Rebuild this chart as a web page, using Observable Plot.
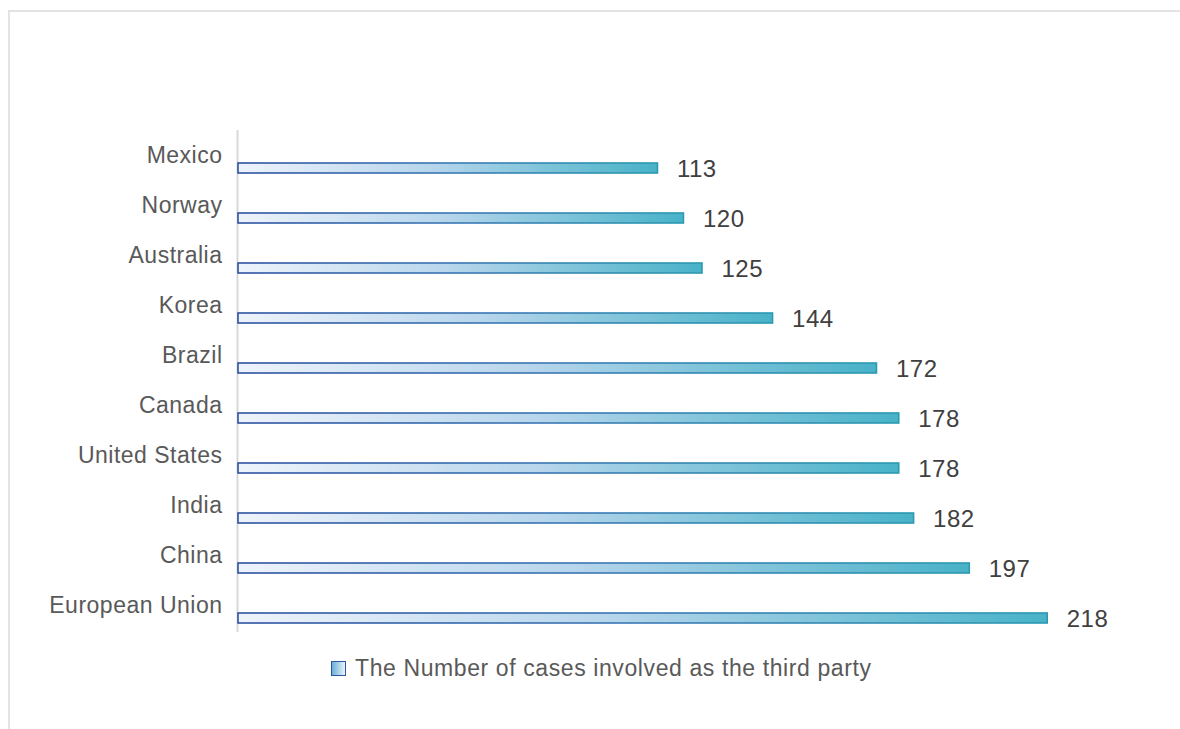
<!DOCTYPE html>
<html>
<head>
<meta charset="utf-8">
<script src="https://cdn.jsdelivr.net/npm/d3@7"></script>
<script src="https://cdn.jsdelivr.net/npm/@observablehq/plot@0.6"></script>
<style>
  html, body { margin: 0; padding: 0; background: #fff; }
  #wrap { position: relative; width: 1180px; height: 729px; overflow: hidden; font-family: "Liberation Sans", Arial, Helvetica, sans-serif; }
  #frame { position: absolute; left: 8px; top: 10px; width: 1200px; height: 760px; border-top: 2px solid #e3e3e3; border-left: 2px solid #e3e3e3; box-sizing: border-box; }
  #chart { position: absolute; left: 0; top: 0; }
  #chart svg text.cat { letter-spacing: 0.5px; }
  #chart svg text.val { letter-spacing: 0.5px; }
  #legend { position: absolute; left: 331px; top: 655px; display: flex; align-items: center; font-size: 23px; letter-spacing: 0.6px; color: #595959; white-space: nowrap; }
  #legend .sw { width: 13px; height: 13px; border: 1.5px solid #2f57a0; background: linear-gradient(to right, #6aaed6, #eaf4fb); margin-right: 9px; }
</style>
</head>
<body>
<div id="wrap">
  <div id="frame"></div>
  <div id="chart"></div>
  <div id="legend"><div class="sw"></div><span id="legendText"></span></div>
</div>
<script>
const countries = ["Mexico", "Norway", "Australia", "Korea", "Brazil", "Canada", "United States", "India", "China", "European Union"];
const cases = [113, 120, 125, 144, 172, 178, 178, 182, 197, 218];
const seriesName = "The Number of cases involved as the third party";

const data = countries.map((c, i) => ({country: c, value: cases[i]}));

const plot = Plot.plot({
  width: 1180,
  height: 729,
  marginLeft: 238,
  marginRight: 14,
  marginTop: 130,
  marginBottom: 97,
  style: {fontFamily: "'Liberation Sans', Arial, Helvetica, sans-serif", background: "transparent", overflow: "visible"},
  x: {domain: [0, 250], axis: null},
  y: {domain: countries, range: [135.8, 650.2], paddingInner: 0.802, paddingOuter: 0.5, axis: null},
  marks: [
    Plot.ruleX([0], {stroke: "#d9d9d9", strokeWidth: 2, dx: -1}),
    Plot.barX(data, {x: "value", y: "country", fill: "url(#barFill)", stroke: "url(#barStroke)", strokeWidth: 1.6}),
    Plot.text(data, {x: 0, y: "country", text: "country", textAnchor: "end", dx: -16, dy: -13, fontSize: 23, fill: "#595959"}),
    Plot.text(data, {x: "value", y: "country", text: d => String(d.value), textAnchor: "start", dx: 19, dy: 1, fontSize: 24, fill: "#404040"})
  ]
});

const textGroups = d3.select(plot).selectAll("g[aria-label='text']");
textGroups.filter((d, i) => i === 0).selectAll("text").classed("cat", true);
textGroups.filter((d, i) => i === 1).selectAll("text").classed("val", true);

const defs = d3.select(plot).insert("defs", ":first-child");
const g1 = defs.append("linearGradient").attr("id", "barFill").attr("x1", "0").attr("x2", "1").attr("y1", "0").attr("y2", "0");
g1.append("stop").attr("offset", "0%").attr("stop-color", "#eef3fb");
g1.append("stop").attr("offset", "45%").attr("stop-color", "#b9d6ec");
g1.append("stop").attr("offset", "100%").attr("stop-color", "#48b2c8");
const g2 = defs.append("linearGradient").attr("id", "barStroke").attr("x1", "0").attr("x2", "1").attr("y1", "0").attr("y2", "0");
g2.append("stop").attr("offset", "0%").attr("stop-color", "#2f52a0");
g2.append("stop").attr("offset", "50%").attr("stop-color", "#3a79b4");
g2.append("stop").attr("offset", "100%").attr("stop-color", "#2b99b0");

document.getElementById("chart").appendChild(plot);
document.getElementById("legendText").textContent = seriesName;
</script>
</body>
</html>
